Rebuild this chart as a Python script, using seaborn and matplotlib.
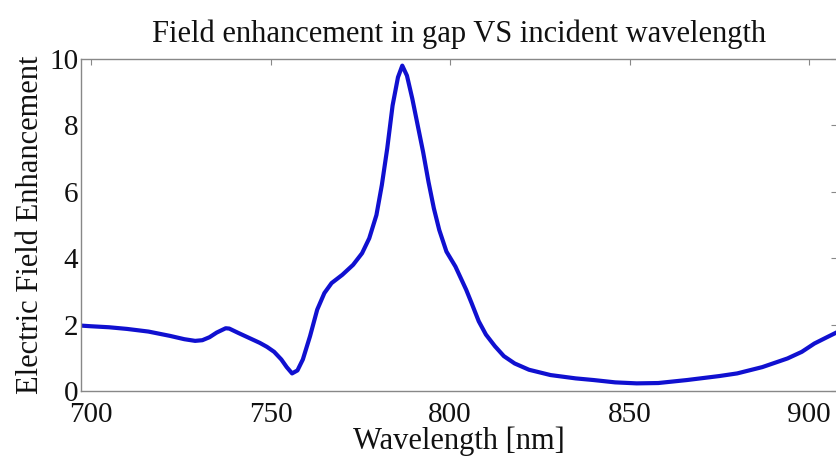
import matplotlib
matplotlib.use("Agg")
import matplotlib.pyplot as plt
import seaborn as sns
import pandas as pd

wavelength = [697.2, 700, 705, 710, 716, 722, 726, 729, 731, 733, 735, 737.5, 738.5,
              741, 744, 747, 749, 751, 753, 754.5, 756, 757.5, 759, 761, 763, 765,
              767, 770, 773, 775.5, 777.5, 779.5, 781, 782.5, 784, 785.5, 786.7,
              788, 789.5, 791, 792.5, 794, 795.5, 797, 799, 801.5, 803, 804.5, 806,
              808, 810, 812.5, 815, 818, 822, 828, 835, 840, 846, 852, 858, 866,
              875, 880, 887, 894, 898, 901.5, 905, 907.8]
enhancement = [1.97, 1.95, 1.92, 1.87, 1.79, 1.66, 1.56, 1.51, 1.53, 1.62, 1.76, 1.89, 1.88,
               1.75, 1.60, 1.45, 1.33, 1.18, 0.95, 0.72, 0.53, 0.62, 0.95, 1.65, 2.45, 2.95,
               3.25, 3.50, 3.80, 4.15, 4.6, 5.3, 6.2, 7.3, 8.6, 9.45, 9.8,
               9.5, 8.8, 8.0, 7.2, 6.3, 5.5, 4.85, 4.2, 3.75, 3.4, 3.05, 2.65,
               2.1, 1.70, 1.35, 1.05, 0.83, 0.64, 0.48, 0.38, 0.33, 0.26, 0.23, 0.24, 0.33,
               0.45, 0.53, 0.72, 0.98, 1.18, 1.43, 1.62, 1.77]
xticks = [700, 750, 800, 850, 900]
yticks = [0, 2, 4, 6, 8, 10]

df = pd.DataFrame({"Wavelength": wavelength, "Enhancement": enhancement})

sns.set_style("white")
plt.rcParams["font.family"] = ["Liberation Serif", "DejaVu Serif"]

fig = plt.figure(figsize=(8.37, 4.58), dpi=100)
ax = fig.add_axes([81 / 837, 1 - 391 / 458, 1 - 81 / 837, (391 - 59) / 458])

sns.lineplot(data=df, x="Wavelength", y="Enhancement", ax=ax,
             color="#1010d0", linewidth=3.0, sort=False)
ax.lines[0].set_solid_joinstyle("round")
ax.lines[0].set_solid_capstyle("round")

ax.set_xlim(697.2, 907.8)
ax.set_ylim(0, 10)
ax.set_xticks(xticks)
ax.set_yticks(yticks)
ax.set_xticklabels([str(v) for v in xticks])
ax.set_yticklabels([str(v) for v in yticks])

for s in ax.spines.values():
    s.set_visible(True)
    s.set_color("#888888")
    s.set_linewidth(1.0)

ax.tick_params(axis="both", direction="in", length=4, width=0.8, color="#888888",
               labelsize=21, top=True, right=True, labelcolor="#111111")
ax.tick_params(axis="x", pad=8)
ax.tick_params(axis="y", pad=2)

ax.set_xlabel("Wavelength [nm]", fontsize=22, color="#111111", labelpad=-1.5)
ax.set_ylabel("Electric Field Enhancement", fontsize=22, color="#111111", labelpad=3)
ax.set_title("Field enhancement in gap VS incident wavelength", fontsize=22,
             color="#111111", pad=12)

fig.savefig("out.png", dpi=100)
